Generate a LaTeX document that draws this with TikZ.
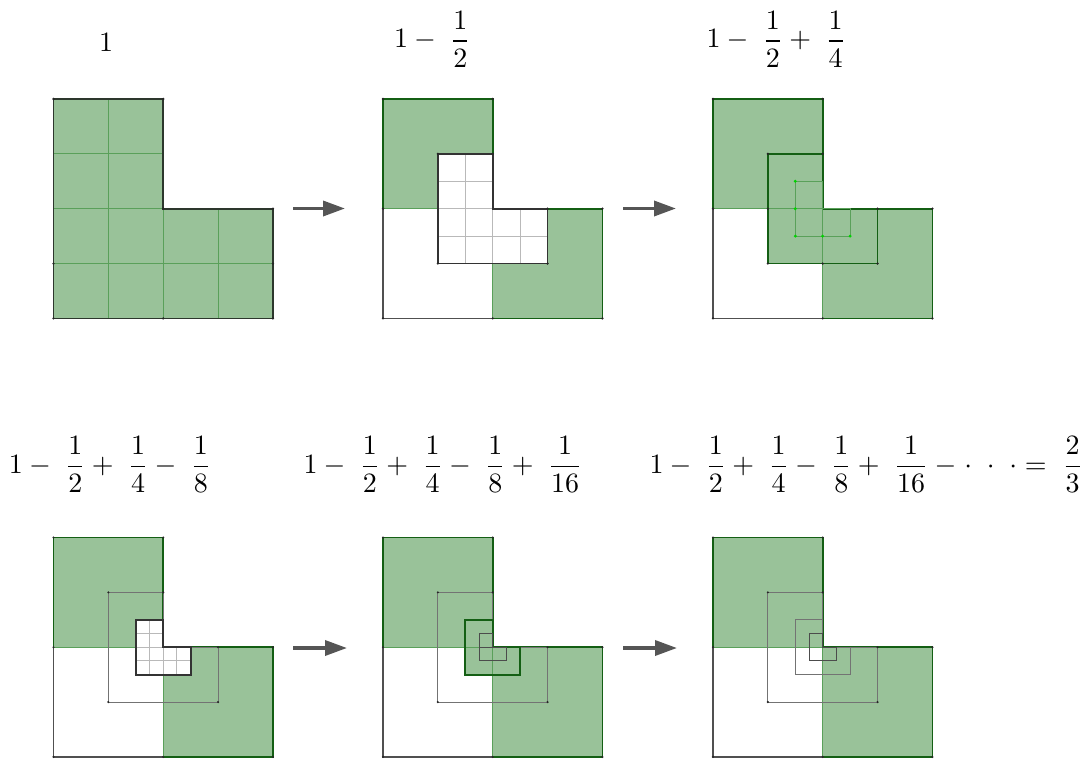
\RequirePackage{fix-cm}
\documentclass[tikz,border=0pt]{standalone}
\usetikzlibrary{arrows.meta}
\definecolor{gfill}{RGB}{153,194,153}
\definecolor{gdark}{RGB}{20,95,20}
\definecolor{ggrid}{RGB}{90,160,90}
\definecolor{edk}{RGB}{45,55,45}
\definecolor{lgrid}{RGB}{185,185,185}
\definecolor{tgray}{RGB}{115,115,115}
\definecolor{bgray}{RGB}{80,80,80}
\definecolor{arrgray}{RGB}{85,85,85}
\definecolor{brightg}{RGB}{0,210,0}
\newcommand\ellpath[1]{(2-#1,2-#1) -- (2,2-#1) -- (2,2) -- (2+#1,2) -- (2+#1,2+#1) -- (2-#1,2+#1) -- cycle}
\newcommand\dfr[2]{{\displaystyle\frac{#1}{#2}}}
\newcommand\lab[1]{\scalebox{2.8}{$#1$}}
\begin{document}
\begin{tikzpicture}[x=1pt,y=-1pt,
  lbl/.style={anchor=base west, inner sep=0pt, outer sep=0pt, font=\fontsize{10}{12}\selectfont},
  flow/.style={draw=arrgray, line width=3.5pt, -{Triangle[length=22pt,width=15pt]}},
  sqedge/.style={draw=gdark, line width=1.8pt, line cap=round},
  sqthin/.style={draw=ggrid, line width=1pt},
  bledge/.style={draw=bgray, line width=1.5pt, line cap=round},
  outerdk/.style={draw=edk, line width=1.7pt, line join=miter},
  gridg/.style={draw=ggrid, line width=1pt},
  gridw/.style={draw=lgrid, line width=0.9pt},
  dkl/.style={draw=black!80, line width=1.8pt},
  thg/.style={draw=tgray, line width=0.9pt},
  vdot/.style={fill=black!85},
  gdot/.style={fill=brightg}]
\useasboundingbox (0,0) rectangle (1091,760);

% ---------- labels ----------
\node[lbl, anchor=base] (t1) at (106,52) {\lab{1}};
\node[lbl] (t2) at (394,48) {\lab{1-\;\dfr{1}{2}}};
\node[lbl] (t3) at (706.5,48) {\lab{1-\;\dfr{1}{2}+\;\dfr{1}{4}}};
\node[lbl] (b1) at (9,473.5) {\lab{1-\;\dfr{1}{2}+\;\dfr{1}{4}-\;\dfr{1}{8}}};
\node[lbl] (b2) at (303.5,473.5) {\lab{1-\;\dfr{1}{2}+\;\dfr{1}{4}-\;\dfr{1}{8}+\;\dfr{1}{16}}};
\node[lbl] (b3) at (649.5,473.5) {\lab{1-\;\dfr{1}{2}+\;\dfr{1}{4}-\;\dfr{1}{8}+\;\dfr{1}{16}-\hspace{0.64pt}{\cdot}\hspace{5.25pt}{\cdot}\hspace{5.25pt}{\cdot}=\;\dfr{2}{3}}};

% ---------- arrows ----------
\coordinate (a1s) at (293,208.5); \coordinate (a1e) at (345,208.5);
\coordinate (a2s) at (623,208.5); \coordinate (a2e) at (676,208.5);
\coordinate (a3s) at (293,648);   \coordinate (a3e) at (347,648);
\coordinate (a4s) at (623,648);   \coordinate (a4e) at (677,648);
\draw[flow] (a1s) -- (a1e);
\draw[flow] (a2s) -- (a2e);
\draw[flow] (a3s) -- (a3e);
\draw[flow] (a4s) -- (a4e);

% ---------- panel 1 ----------
\begin{scope}[shift={(53.5,99)},x=54.85pt,y=-54.85pt]
  \fill[gfill] \ellpath{2};
  \begin{scope}
    \clip \ellpath{2};
    \foreach \i in {1,2,3}{\draw[gridg] (\i,0) -- (\i,4) (0,\i) -- (4,\i);}
  \end{scope}
  \draw[outerdk] \ellpath{2};
  \foreach \p in {(0,0),(2,0),(2,2),(4,2),(4,4),(0,4),(0,3),(4,3),(2,4)}{\fill[vdot] \p circle (1.3pt);}
\end{scope}

% ---------- panel 2 ----------
\begin{scope}[shift={(383,99)},x=54.85pt,y=-54.85pt]
  \fill[gfill] (0,0) rectangle (2,2);
  \fill[gfill] (2,2) rectangle (4,4);
  \draw[sqthin] (0,2) -- (2,2) (2,2) -- (2,4);
  \draw[sqedge] (0,2) -- (0,0) -- (2,0) -- (2,2);
  \draw[sqedge] (2,4) -- (4,4) -- (4,2) -- (2,2);
  \draw[bledge] (0,2) -- (0,4) -- (2,4);
  \fill[white] \ellpath{1};
  \begin{scope}
    \clip \ellpath{1};
    \foreach \i in {1.5,2,2.5}{\draw[gridw] (\i,0) -- (\i,4) (0,\i) -- (4,\i);}
  \end{scope}
  \draw[dkl] \ellpath{1};
  \foreach \p in {(0,0),(2,0),(0,2),(4,2),(4,4),(2,4),(0,4),(1,1),(2,1),(3,2),(3,3),(1,3)}{\fill[vdot] \p circle (1.3pt);}
\end{scope}

% ---------- panel 3 ----------
\begin{scope}[shift={(713,99)},x=54.85pt,y=-54.85pt]
  \fill[gfill] (0,0) rectangle (2,2);
  \fill[gfill] (2,2) rectangle (4,4);
  \fill[gfill] \ellpath{1};
  \draw[sqthin] (0,2) -- (2,2) (2,2) -- (2,4);
  \draw[sqedge] (0,2) -- (0,0) -- (2,0) -- (2,2);
  \draw[sqedge] (2,4) -- (4,4) -- (4,2) -- (2,2);
  \draw[bledge] (0,2) -- (0,4) -- (2,4);
  \draw[sqedge] \ellpath{1};
  \draw[gridg] \ellpath{0.5} (1.5,2) -- (2,2) (2,2) -- (2,2.5);
  \foreach \p in {(0,0),(2,0),(0,2),(4,2),(4,4),(2,4),(0,4),(1,1),(2,1),(3,2),(3,3),(1,3),(1,2),(2,3)}{\fill[vdot] \p circle (1.3pt);}
  \foreach \p in {(1.5,1.5),(1.5,2),(1.5,2.5),(2,2.5),(2.5,2.5)}{\fill[gdot] \p circle (1.6pt);}
\end{scope}

% ---------- panel 4 ----------
\begin{scope}[shift={(53.5,537.5)},x=54.85pt,y=-54.85pt]
  \fill[gfill] (0,0) rectangle (2,2);
  \fill[gfill] (2,2) rectangle (4,4);
  \draw[sqthin] (0,2) -- (2,2) (2,2) -- (2,4);
  \draw[sqedge] (0,2) -- (0,0) -- (2,0) -- (2,2);
  \draw[sqedge] (2,4) -- (4,4) -- (4,2) -- (2,2);
  \draw[bledge] (0,2) -- (0,4) -- (2,4);
  \draw[thg] \ellpath{1};
  \fill[white] \ellpath{0.5};
  \begin{scope}
    \clip \ellpath{0.5};
    \foreach \i in {1.75,2,2.25}{\draw[gridw] (\i,0) -- (\i,4) (0,\i) -- (4,\i);}
  \end{scope}
  \draw[dkl] \ellpath{0.5};
  \foreach \p in {(0,0),(2,0),(0,2),(4,2),(4,4),(2,4),(0,4),(1,1),(2,1),(3,2),(3,3),(1,3)}{\fill[vdot] \p circle (1.2pt);}
\end{scope}

% ---------- panel 5 ----------
\begin{scope}[shift={(383,537.5)},x=54.85pt,y=-54.85pt]
  \fill[gfill] (0,0) rectangle (2,2);
  \fill[gfill] (2,2) rectangle (4,4);
  \fill[gfill] \ellpath{0.5};
  \draw[sqthin] (0,2) -- (2,2) (2,2) -- (2,4);
  \draw[sqedge] (0,2) -- (0,0) -- (2,0) -- (2,2);
  \draw[sqedge] (2,4) -- (4,4) -- (4,2) -- (2,2);
  \draw[bledge] (0,2) -- (0,4) -- (2,4);
  \draw[thg] \ellpath{1};
  \draw[sqedge] \ellpath{0.5};
  \draw[thg, draw=black!70] \ellpath{0.25} (1.75,2) -- (2,2);
  \foreach \p in {(0,0),(2,0),(0,2),(4,2),(4,4),(2,4),(0,4),(1,1),(2,1),(3,2),(3,3),(1,3)}{\fill[vdot] \p circle (1.2pt);}
\end{scope}

% ---------- panel 6 ----------
\begin{scope}[shift={(713,537.5)},x=54.85pt,y=-54.85pt]
  \fill[gfill] (0,0) rectangle (2,2);
  \fill[gfill] (2,2) rectangle (4,4);
  \draw[sqthin] (0,2) -- (2,2) (2,2) -- (2,4);
  \draw[sqedge] (0,2) -- (0,0) -- (2,0) -- (2,2);
  \draw[sqedge] (2,4) -- (4,4) -- (4,2) -- (2,2);
  \draw[bledge] (0,2) -- (0,4);
  \draw[bledge, line width=2.6pt] (0,4) -- (2,4);
  \draw[thg] \ellpath{1};
  \draw[thg] \ellpath{0.5};
  \draw[thg, draw=black!70] \ellpath{0.25};
  \foreach \p in {(0,0),(2,0),(0,2),(4,2),(4,4),(2,4),(0,4),(1,1),(2,1),(3,2),(3,3),(1,3)}{\fill[vdot] \p circle (1.2pt);}
\end{scope}
\end{tikzpicture}
\end{document}
